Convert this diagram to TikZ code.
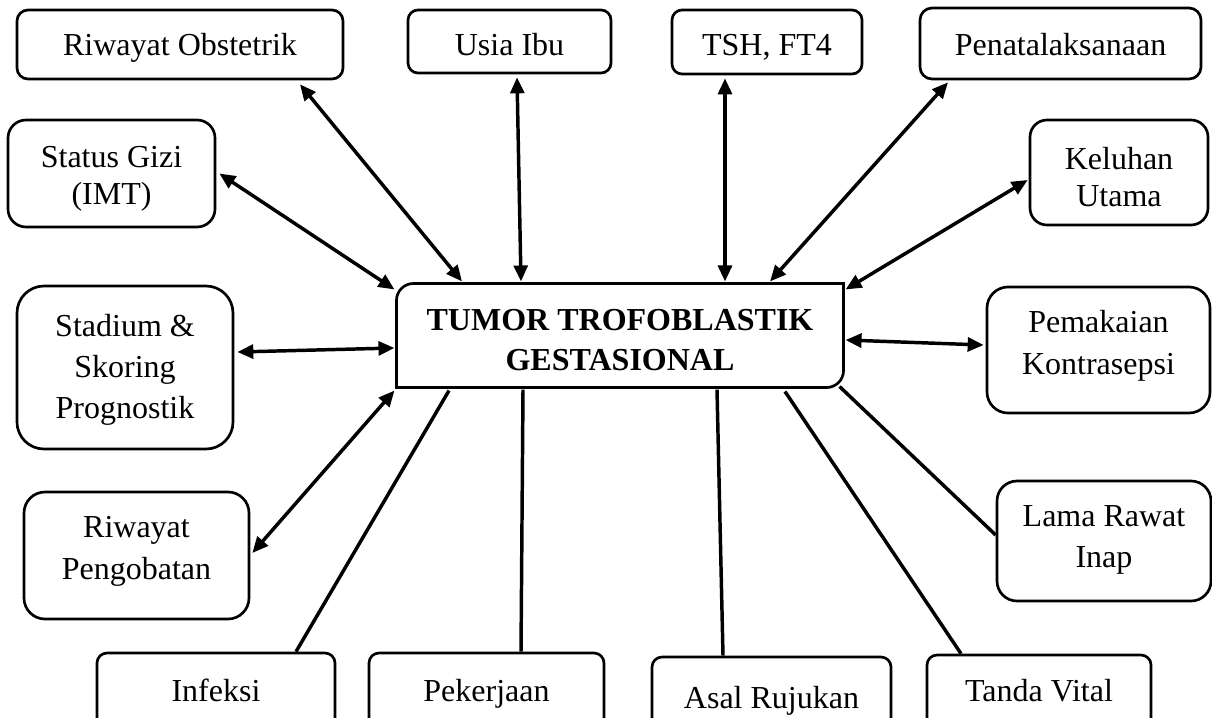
\documentclass[tikz,border=0pt]{standalone}
\usepackage{fontspec}
\setmainfont{Liberation Serif}
\usetikzlibrary{arrows.meta,calc}
\begin{document}
\begin{tikzpicture}[x=0.375pt,y=-0.375pt,
  box/.style={draw, line width=1pt, inner sep=0pt},
  txt/.style={align=center, inner sep=0pt, font=\fontsize{12}{15.4}\selectfont},
  tight/.style={font=\fontsize{12}{13.9}\selectfont},
  sz/.style n args={3}{minimum width=#1*0.375pt, minimum height=#2*0.375pt, rounded corners=#3*0.375pt},
  link/.style={line width=1.3pt},
  biarrow/.style={link, {Triangle[length=6pt,width=5.2pt]}-{Triangle[length=6pt,width=5.2pt]}},
]
\useasboundingbox (0,0) rectangle (1212,717);
\fill[white] (0,0) rectangle (1212,717);
\clip (0,0) rectangle (1212,717);

% central node
\node[inner sep=0pt, minimum width=446*0.375pt, minimum height=103*0.375pt] (c) at (620,335.5) {};
\draw[line width=1pt] (c.south west) -- ([yshift=-6.4pt]c.north west)
  arc[start angle=180,end angle=90,radius=6.4pt] -- (c.north east)
  -- ([yshift=6.4pt]c.south east) arc[start angle=0,end angle=-90,radius=6.4pt] -- cycle;
\node[txt, font=\fontsize{12}{15.2}\selectfont\bfseries] (ct) at ($(c.center)+(0,6.8)$) {\strut TUMOR TROFOBLASTIK\\GESTASIONAL\strut};

% top row
\node[box, sz={326}{69}{11}] (ro) at (180,44.5) {};
\node[txt] (rot) at (180,47) {\strut Riwayat Obstetrik};
\node[box, sz={203}{63}{10}] (ui) at (509.5,41.5) {};
\node[txt] (uit) at (509.5,47) {\strut Usia Ibu};
\node[box, sz={190}{64}{10}] (tsh) at (767,42) {};
\node[txt] (tsht) at (767,47) {\strut TSH, FT4};
\node[box, sz={281}{71}{12}] (pen) at (1060.5,43.5) {};
\node[txt] (pent) at (1060.5,47) {\strut Penatalaksanaan};
% sides
\node[box, sz={207}{107}{18}] (sg) at (111.5,173.5) {};
\node[txt, tight] (sgt) at ($(sg.center)+(0,5.5)$) {\strut Status Gizi\\(IMT)\strut};
\node[box, sz={178}{105}{17}] (ku) at (1119,172.5) {};
\node[txt, tight] (kut) at ($(ku.center)+(0,8)$) {\strut Keluhan\\Utama\strut};
\node[box, sz={216}{163}{27}] (st) at (125,367.5) {};
\node[txt] (stt) at ($(st.center)+(0,2)$) {\strut Stadium \&\\Skoring\\Prognostik\strut};
\node[box, sz={223}{126}{21}] (pk) at (1098.5,350) {};
\node[txt] (pkt) at ($(pk.center)+(0,-4.7)$) {\strut Pemakaian\\Kontrasepsi\strut};
\node[box, sz={225}{127}{21}] (rp) at (136.5,555.5) {};
\node[txt] (rpt) at ($(rp.center)+(0,-5.2)$) {\strut Riwayat\\Pengobatan\strut};
\node[box, sz={214}{120}{20}] (lr) at (1104,541) {};
\node[txt] (lrt) at ($(lr.center)+(0,-2.5)$) {\strut Lama Rawat\\Inap\strut};
% bottom row
\node[box, sz={238}{100}{10}] (inf) at (216,703) {};
\node[txt] (inft) at (216,693) {\strut Infeksi};
\node[box, sz={235}{100}{10}] (pek) at (486.5,703) {};
\node[txt] (pekt) at (486.5,693) {\strut Pekerjaan};
\node[box, sz={239}{100}{10}] (ar) at (771.5,707) {};
\node[txt] (art) at (771.5,700) {\strut Asal Rujukan};
\node[box, sz={224}{100}{10}] (tv) at (1039,705) {};
\node[txt] (tvt) at (1039,693) {\strut Tanda Vital};

% bidirectional arrows
\draw[biarrow] ($(ro.south)+(120,4)$) -- ($(c.north)+(-158,-2)$);
\draw[biarrow] ($(sg.east)+(3,0)$) -- ($(c.north west)+(-2,6)$);
\draw[biarrow] ($(ui.south)+(7.5,3)$) -- ($(c.north)+(-99,-2)$);
\draw[biarrow] ($(tsh.south)+(-42,3)$) -- ($(c.north)+(105,-2)$);
\draw[biarrow] ($(pen.south)+(-112.5,2)$) -- ($(c.north)+(150,-2)$);
\draw[biarrow] ($(ku.west)+(-1,7.5)$) -- ($(c.north east)+(2,6)$);
\draw[biarrow] ($(st.east)+(3,-15.5)$) -- ($(c.west)+(-2,12.5)$);
\draw[biarrow] ($(c.east)+(2,4.5)$) -- ($(pk.west)+(-2,-5)$);
\draw[biarrow] ($(rp.east)+(2,-2.5)$) -- ($(c.south west)+(-2,3)$);

% plain lines
\draw[link] ($(inf.north)+(80,0)$) -- ($(c.south)+(-171,3)$);
\draw[link] ($(pek.north)+(34.5,0)$) -- ($(c.south)+(-97,2)$);
\draw[link] ($(ar.north)+(-48.5,0)$) -- ($(c.south)+(97,2)$);
\draw[link] ($(tv.north)+(-78,0)$) -- ($(c.south)+(165,4)$);
\draw[link] ($(lr.west)+(0,-6)$) -- ($(c.south east)+(-4,-1)$);
\end{tikzpicture}
\end{document}
